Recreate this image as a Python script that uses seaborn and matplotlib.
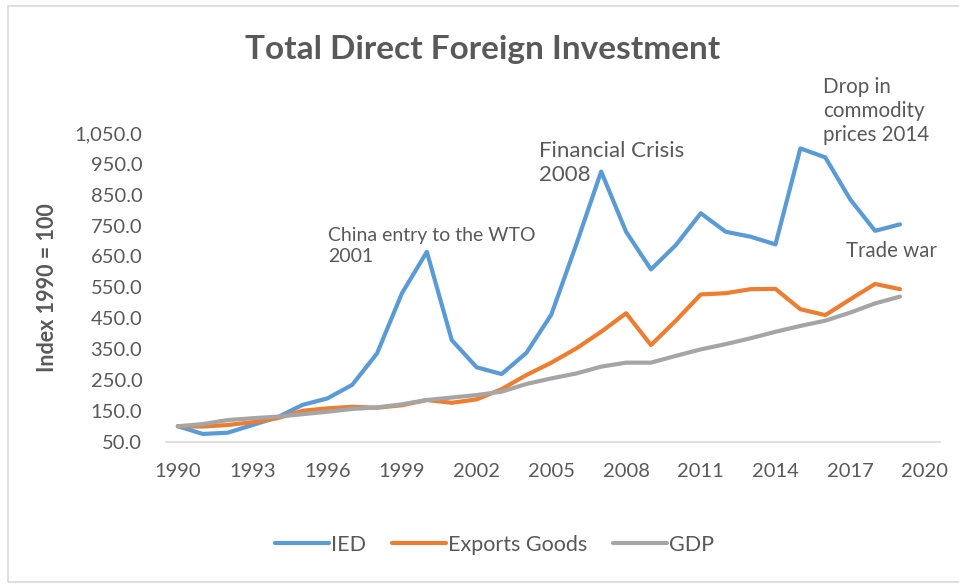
import pandas as pd
import numpy as np
import seaborn as sns
from matplotlib import pyplot as plt
from matplotlib.patches import Rectangle
from matplotlib.ticker import FuncFormatter

years = list(range(1990, 2020))
ied = [100, 75, 79, 104, 129, 169, 190, 234, 336, 531, 665, 379, 291, 269, 338,
       462, 689, 925, 730, 608, 687, 790, 730, 714, 689, 1000, 971, 835, 733, 754]
exports = [100, 99, 104, 113, 126, 150, 158, 163, 160, 168, 185, 176, 187, 220, 266,
           306, 352, 406, 466, 363, 442, 527, 531, 544, 545, 479, 460, 511, 561, 544]
gdp = [100, 107, 120, 126, 131, 139, 147, 156, 161, 171, 185, 193, 201, 212, 237,
       255, 271, 293, 306, 306, 328, 349, 366, 385, 406, 425, 442, 468, 498, 520]
series_names = ["IED", "Exports Goods", "GDP"]
colors = ["#5B9BD5", "#ED7D31", "#A5A5A5"]
y_ticks = [50, 150, 250, 350, 450, 550, 650, 750, 850, 950, 1050]
x_ticks = list(range(1990, 2021, 3))

df = pd.DataFrame({"Year": years * 3,
                   "Value": ied + exports + gdp,
                   "Series": sum([[n] * len(years) for n in series_names], [])})

sns.set_style("white")
plt.rcParams["font.family"] = ["Lato", "DejaVu Sans"]
txt = "#595959"

fig = plt.figure(figsize=(9.59, 5.84), dpi=100)
ax = fig.add_axes([0.173, 0.2437, 0.807, 0.5286])

sns.lineplot(data=df, x="Year", y="Value", hue="Series", hue_order=series_names,
             palette=colors, linewidth=3, ax=ax, legend=False)

ax.set_xlim(1989.52, 2020.6)
ax.set_ylim(50, 1050)
ax.set_xticks(x_ticks)
ax.set_yticks(y_ticks)
ax.yaxis.set_major_formatter(FuncFormatter(lambda v, p: f"{v:,.1f}"))
ax.tick_params(axis="both", length=0, labelsize=14.5, colors=txt)
ax.tick_params(axis="x", pad=15)
ax.tick_params(axis="y", pad=17)
for s in ["top", "right", "left"]:
    ax.spines[s].set_visible(False)
ax.spines["bottom"].set_color("#D9D9D9")
ax.spines["bottom"].set_linewidth(1.2)
ax.set_xlabel("")
ax.set_ylabel("Index 1990 = 100", fontsize=15.5, fontweight="bold", color=txt)
ax.yaxis.set_label_coords(-0.139, 0.5)

fig.text(0.503, 1 - 49 / 584, "Total Direct Foreign Investment", ha="center", va="center",
         fontsize=24, fontweight="bold", color=txt)

# annotations
fig.text(328 / 959, 1 - 246 / 584, "China entry to the WTO\n2001", ha="left", va="center",
         fontsize=14, color=txt, linespacing=1.3)
fig.text(539 / 959, 1 - 163 / 584, "Financial Crisis\n2008", ha="left", va="center",
         fontsize=16, color=txt, linespacing=1.3)
fig.text(823 / 959, 1 - 111 / 584, "Drop in\ncommodity\nprices 2014", ha="left", va="center",
         fontsize=14.8, color=txt, linespacing=1.25)
fig.text(846 / 959, 1 - 251 / 584, "Trade war", ha="left", va="center",
         fontsize=14.8, color=txt)

# legend
handles = [plt.Line2D([], [], color=c, lw=3, solid_capstyle="round") for c in colors]
fig.legend(handles, series_names, loc="center", bbox_to_anchor=(0.516, 1 - 545 / 584),
           ncol=3, frameon=False, fontsize=15.5, labelcolor=txt, handlelength=2.5,
           handletextpad=0.1, columnspacing=1.2)

# chart border
fig.patches.append(Rectangle((8 / 959, 2 / 584), 1.0, 576 / 584, transform=fig.transFigure,
                             fill=False, edgecolor="#D9D9D9", linewidth=1.2))

fig.savefig("out.png", dpi=100)
